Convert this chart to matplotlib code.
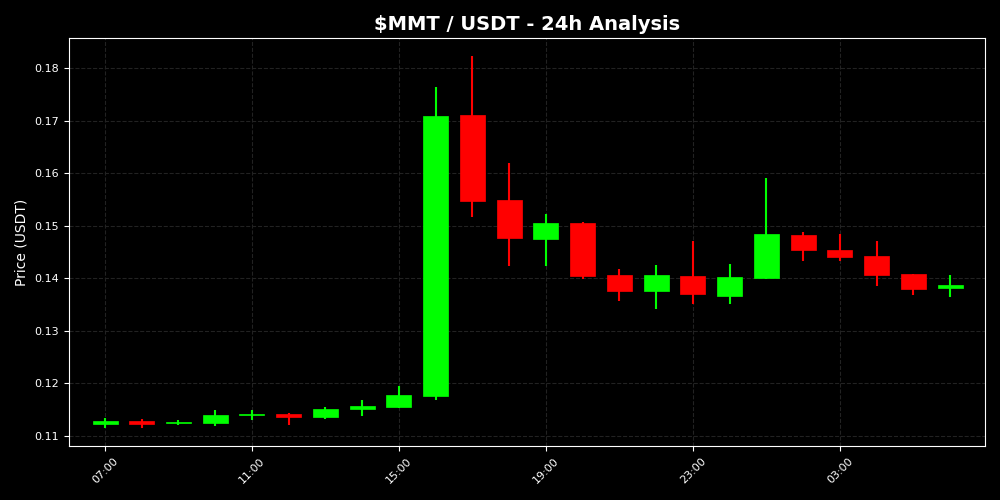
import matplotlib
matplotlib.use("Agg")
import matplotlib.pyplot as plt
import matplotlib.dates as mdates
import numpy as np
import pandas as pd

times = pd.date_range("2024-01-01 07:00", periods=24, freq="h")
opens  = [0.1123, 0.1128, 0.1124, 0.1124, 0.1140, 0.1142, 0.1137, 0.1152, 0.1156, 0.1176, 0.1711, 0.1549,
          0.1475, 0.1506, 0.1406, 0.1375, 0.1404, 0.1366, 0.1401, 0.1482, 0.1454, 0.1442, 0.1408, 0.1382]
closes = [0.1128, 0.1123, 0.1125, 0.1140, 0.1142, 0.1137, 0.1151, 0.1157, 0.1177, 0.1709, 0.1547, 0.1477,
          0.1505, 0.1404, 0.1375, 0.1406, 0.1370, 0.1402, 0.1484, 0.1453, 0.1441, 0.1406, 0.1380, 0.1387]
highs  = [0.1134, 0.1132, 0.1130, 0.1149, 0.1150, 0.1144, 0.1155, 0.1168, 0.1195, 0.1764, 0.1823, 0.1619,
          0.1522, 0.1508, 0.1418, 0.1425, 0.1471, 0.1427, 0.1591, 0.1488, 0.1484, 0.1471, 0.1409, 0.1406]
lows   = [0.1116, 0.1116, 0.1121, 0.1118, 0.1131, 0.1121, 0.1132, 0.1138, 0.1154, 0.1168, 0.1517, 0.1423,
          0.1423, 0.1399, 0.1357, 0.1342, 0.1351, 0.1351, 0.1399, 0.1433, 0.1433, 0.1385, 0.1368, 0.1364]

fig, ax = plt.subplots(figsize=(10, 5), dpi=100)
fig.patch.set_facecolor("black")
ax.set_facecolor("black")

x = mdates.date2num(times)
w = 0.68 / 24.0
for xi, o, c, h, l in zip(x, opens, closes, highs, lows):
    col = "#00ff00" if c >= o else "#ff0000"
    ax.vlines(xi, l, h, color=col, linewidth=1.5, zorder=2)
    bottom = min(o, c)
    height = max(abs(c - o), 0.0002)
    ax.bar(xi, height, width=w, bottom=bottom, color=col, edgecolor=col, linewidth=0.5, zorder=3)

ax.set_xlim(x[0] - 0.98 / 24, x[0] + 23.95 / 24)
ax.set_ylim(0.10809, 0.18571)
ax.xaxis.set_major_locator(mdates.HourLocator(byhour=[7, 11, 15, 19, 23, 3]))
ax.xaxis.set_major_formatter(mdates.DateFormatter("%H:%M"))
plt.setp(ax.get_xticklabels(), rotation=45)

ax.grid(True, color="#222222", linestyle="--", linewidth=0.8)
ax.set_axisbelow(True)
for s in ax.spines.values():
    s.set_color("white")
ax.tick_params(colors="white", labelsize=8)
ax.set_ylabel("Price (USDT)", color="white", fontsize=10)
ax.set_title("$MMT / USDT - 24h Analysis", color="white", fontsize=14, fontweight="bold")

fig.subplots_adjust(left=0.069, right=0.985, top=0.924, bottom=0.108)
fig.savefig("out.png", dpi=100, facecolor="black")
